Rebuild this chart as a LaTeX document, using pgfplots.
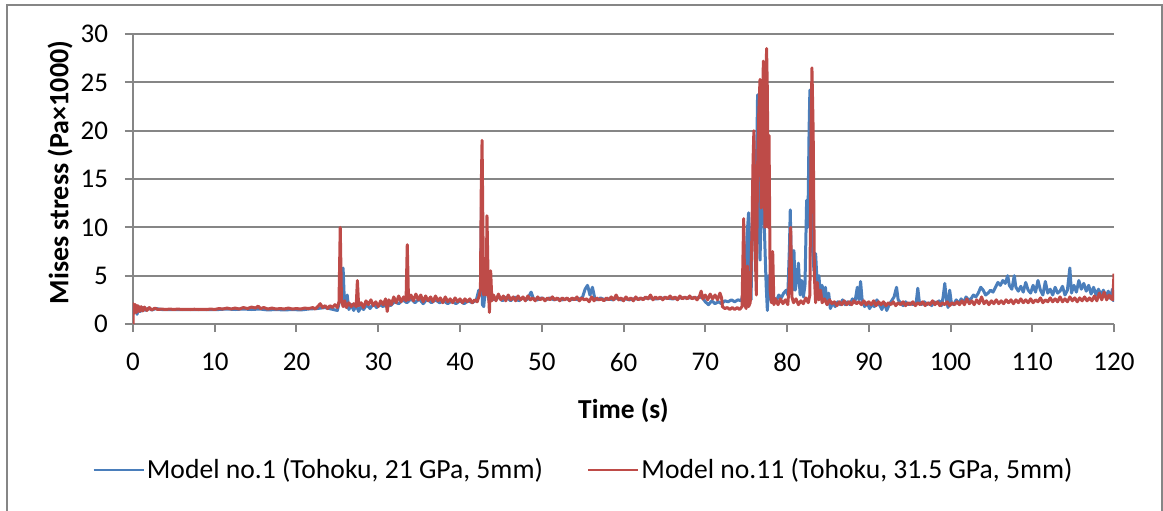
\documentclass[border=0pt]{standalone}
\usepackage{fontspec}
\setmainfont{Carlito}
\usepackage{pgfplots}
\pgfplotsset{compat=1.18}
\definecolor{ser1}{HTML}{4A7EBB}
\definecolor{ser2}{HTML}{BE4B48}
\definecolor{gridc}{HTML}{868686}
\begin{document}
\begin{tikzpicture}
\useasboundingbox (-66.5pt,-93pt) rectangle (515pt,162pt);
\draw[gridc, line width=1pt] (-62.75pt,-95pt) -- (-62.75pt,159.5pt) -- (514.5pt,159.5pt) -- (514.5pt,-95pt);
\begin{axis}[
  at={(0,0)}, anchor=south west,
  scale only axis, width=490.5pt, height=145pt,
  xmin=0, xmax=120, ymin=0, ymax=30,
  xtick={0,10,...,120}, ytick={0,5,...,30},
  axis x line*=bottom, axis y line*=left,
  axis line style={gridc, line width=1pt, -},
  tick style={gridc, line width=1pt},
  major tick length=4pt, tick align=outside,
  ymajorgrids, grid style={gridc, line width=1pt},
  ticklabel style={font=\fontsize{13.5}{16}\selectfont, text=black},
  xticklabel style={yshift=-7pt},
  yticklabel style={xshift=-5pt},
  /pgf/number format/assume math mode=true,
  xlabel={Time (s)}, ylabel={Mises stress (Pa×1000)},
  xlabel style={font=\fontsize{13.7}{16}\selectfont\bfseries, at={(axis description cs:0.5,-0.2966)}, anchor=center},
  ylabel style={font=\fontsize{14}{16}\selectfont\bfseries, at={(axis description cs:-0.0744,0.522)}, anchor=center, rotate=0},
  legend style={at={(axis description cs:0.4592,-0.5034)}, anchor=center, draw=none,
    font=\fontsize{13.8}{16}\selectfont, legend columns=2,
    nodes={inner xsep=1pt},
    /tikz/every even column/.append style={column sep=21pt}},
  legend cell align=left,
  legend image code/.code={\draw[#1,line width=1.25pt] (0pt,0pt) -- (25pt,0pt);},
  every axis plot/.append style={line width=1.5pt, line join=round},
]
\addplot[ser1] coordinates {
(0,2.0)(0.1,1.2)(0.3,1.9)(0.5,1.0)(0.7,1.8)(0.9,1.3)(1.2,1.7)(1.5,1.4)(1.9,1.65)(2.3,1.45)(2.8,1.6)(3.5,1.5)(4.5,1.5)(5.5,1.5)(6.5,1.5)(7.5,1.5)(8.5,1.5)(9.5,1.5)(10.5,1.5)(11.5,1.55)(12.5,1.5)(13.5,1.55)(14.5,1.5)(15.5,1.55)(16.5,1.45)(17.5,1.5)(18.5,1.45)(19.5,1.5)(20.5,1.45)(21.5,1.55)(22.5,1.6)(23.5,1.7)(24.5,1.5)(25.0,1.4)(25.3,2.5)(25.55,3.5)(25.7,5.8)(25.85,2.5)(26.0,1.8)(26.2,3.0)(26.4,1.5)(26.7,2.0)(27.0,1.4)(27.3,2.0)(27.6,1.3)(27.9,1.8)(28.2,1.5)(28.6,2.0)(29.0,1.6)(29.4,2.1)(29.8,1.7)(30.2,2.0)(30.6,1.8)(31.0,2.2)(31.5,1.9)(32.0,2.3)(32.5,2.1)(33.0,2.5)(33.5,2.2)(34.0,2.6)(34.5,2.2)(35.0,2.6)(35.5,2.1)(36.0,2.6)(36.5,2.2)(37.0,2.5)(37.5,2.2)(38.0,2.4)(38.5,2.1)(39.0,2.4)(39.5,2.1)(40.0,2.4)(40.5,2.1)(41.0,2.4)(41.5,2.2)(42.0,2.5)(42.3,3.5)(42.5,3.0)(42.65,13.5)(42.75,2.0)(42.9,1.8)(43.1,3.5)(43.3,5.5)(43.5,2.5)(43.8,2.9)(44.2,2.5)(44.7,2.8)(45.2,2.4)(45.7,2.8)(46.2,2.4)(46.7,2.8)(47.2,2.4)(47.7,2.7)(48.2,2.5)(48.7,3.3)(49.0,2.6)(49.5,2.5)(50.0,2.7)(50.5,2.5)(51.0,2.7)(51.5,2.5)(52.0,2.6)(52.5,2.5)(53.0,2.6)(53.5,2.5)(54.0,2.6)(54.5,2.5)(55.0,2.8)(55.3,3.6)(55.6,4.0)(55.9,3.0)(56.2,3.8)(56.5,2.6)(56.8,2.5)(57.2,2.7)(57.7,2.5)(58.2,2.6)(58.7,2.5)(59.2,2.7)(59.7,2.5)(60.2,2.6)(60.7,2.5)(61.2,2.6)(62.0,2.6)(63.0,2.7)(64.0,2.6)(65.0,2.7)(66.0,2.6)(67.0,2.7)(68.0,2.7)(69.0,2.7)(69.6,2.8)(70.0,2.3)(70.4,2.0)(70.8,2.4)(71.2,2.1)(71.6,2.3)(72.0,2.1)(72.4,2.4)(72.8,2.3)(73.2,2.5)(73.6,2.3)(74.0,2.5)(74.4,2.4)(74.6,3.0)(74.9,2.5)(75.1,9.0)(75.3,11.5)(75.45,4.0)(75.6,2.5)(75.8,12.0)(76.0,18.0)(76.2,12.0)(76.4,23.7)(76.55,14.0)(76.7,6.6)(76.85,12.0)(77.0,18.9)(77.15,12.0)(77.3,8.0)(77.45,4.0)(77.6,1.4)(77.75,5.0)(77.9,3.0)(78.1,2.3)(78.4,2.7)(78.7,2.4)(79.0,3.0)(79.3,2.7)(79.6,3.2)(79.9,3.5)(80.1,3.0)(80.3,8.0)(80.4,11.8)(80.55,5.0)(80.7,3.5)(80.85,7.6)(81.0,3.5)(81.2,4.5)(81.4,6.3)(81.6,3.0)(81.8,4.5)(82.0,2.8)(82.2,4.0)(82.4,12.8)(82.55,10.0)(82.7,20.0)(82.8,24.2)(82.95,15.0)(83.1,8.0)(83.3,5.5)(83.5,7.3)(83.7,4.0)(83.9,5.0)(84.1,3.0)(84.3,4.0)(84.5,2.5)(84.7,3.8)(84.9,2.0)(85.1,3.2)(85.3,1.6)(85.6,2.2)(85.9,1.8)(86.2,2.3)(86.5,2.0)(86.8,2.5)(87.1,2.0)(87.4,2.3)(87.7,2.0)(88.0,2.6)(88.3,2.2)(88.6,3.8)(88.8,2.5)(89.0,4.4)(89.2,2.4)(89.5,1.8)(89.8,2.2)(90.1,1.6)(90.4,2.0)(90.7,1.8)(91.0,2.5)(91.3,2.0)(91.6,1.5)(91.9,2.2)(92.2,1.4)(92.5,2.0)(92.8,2.4)(93.1,2.8)(93.4,3.8)(93.6,2.5)(93.9,2.2)(94.2,1.9)(94.5,2.3)(94.8,2.0)(95.1,2.2)(95.4,2.0)(95.8,2.2)(96.0,3.7)(96.2,2.2)(96.5,2.0)(96.8,2.3)(97.1,2.0)(97.4,2.2)(97.7,1.9)(98.0,2.3)(98.3,2.1)(98.6,2.4)(98.9,1.9)(99.1,2.8)(99.3,4.2)(99.5,2.5)(99.7,1.7)(99.9,3.5)(100.1,2.2)(100.4,2.0)(100.7,2.5)(101.0,2.1)(101.3,2.6)(101.6,2.2)(101.9,2.8)(102.2,2.5)(102.5,2.6)(102.8,3.0)(103.1,2.8)(103.4,3.2)(103.7,3.8)(104.0,3.5)(104.3,3.0)(104.6,3.2)(104.9,3.5)(105.2,3.3)(105.5,3.8)(105.8,4.3)(106.1,4.0)(106.4,4.5)(106.7,4.2)(107.0,5.0)(107.2,4.0)(107.5,3.6)(107.8,5.0)(108.0,3.8)(108.3,3.4)(108.6,3.9)(108.9,3.3)(109.2,4.3)(109.5,3.5)(109.8,3.2)(110.1,4.0)(110.4,3.3)(110.7,4.5)(111.0,3.5)(111.3,3.0)(111.6,4.4)(111.9,3.2)(112.2,3.6)(112.5,3.0)(112.8,3.8)(113.1,3.2)(113.4,3.4)(113.7,3.9)(114.0,3.0)(114.3,3.5)(114.6,5.8)(114.8,3.2)(115.1,4.0)(115.4,3.3)(115.7,4.5)(116.0,3.6)(116.3,4.2)(116.6,3.4)(116.9,4.0)(117.2,3.1)(117.5,3.8)(117.8,3.0)(118.1,3.6)(118.4,3.0)(118.7,3.5)(119.0,2.8)(119.3,3.4)(119.6,2.6)(119.8,3.6)(120.0,2.3)
};
\addlegendentry{Model no.1 (Tohoku, 21 GPa, 5mm)}
\addplot[ser2] coordinates {
(0,0.0)(0.05,2.1)(0.15,1.1)(0.3,2.0)(0.45,1.2)(0.6,1.9)(0.8,1.3)(1.0,1.8)(1.2,1.35)(1.4,1.75)(1.7,1.4)(2.0,1.7)(2.3,1.45)(2.7,1.65)(3.0,1.5)(3.5,1.55)(4,1.5)(4.5,1.55)(5,1.5)(5.5,1.55)(6,1.5)(6.5,1.52)(7,1.5)(7.5,1.53)(8,1.5)(8.5,1.52)(9,1.5)(9.5,1.55)(10,1.5)(10.5,1.6)(11,1.55)(11.5,1.65)(12,1.55)(12.5,1.65)(13,1.55)(13.5,1.7)(14,1.6)(14.5,1.75)(15,1.65)(15.3,1.85)(15.6,1.6)(16,1.7)(16.5,1.55)(17,1.65)(17.5,1.55)(18,1.6)(18.5,1.55)(19,1.65)(19.5,1.55)(20,1.6)(20.5,1.55)(21,1.65)(21.5,1.6)(22,1.7)(22.3,1.55)(22.6,1.8)(22.9,2.1)(23.2,1.7)(23.5,1.9)(23.8,1.6)(24.1,1.9)(24.4,1.7)(24.7,2.0)(25.0,1.7)(25.2,2.3)(25.35,10.0)(25.5,2.5)(25.7,1.8)(25.9,2.4)(26.1,1.7)(26.4,2.2)(26.7,1.8)(27.0,2.1)(27.3,1.8)(27.45,4.5)(27.6,1.9)(27.9,2.2)(28.2,1.7)(28.5,2.4)(28.8,2.0)(29.1,2.5)(29.4,1.9)(29.7,2.3)(30.0,1.8)(30.3,2.4)(30.6,2.0)(30.9,2.6)(31.1,1.3)(31.3,2.5)(31.6,2.0)(31.9,2.8)(32.2,2.2)(32.5,2.9)(32.8,2.3)(33.1,2.8)(33.4,2.4)(33.55,8.2)(33.7,2.5)(34.0,3.0)(34.3,2.4)(34.6,3.1)(34.9,2.5)(35.2,3.0)(35.5,2.3)(35.8,2.9)(36.1,2.4)(36.4,2.8)(36.7,2.3)(37.0,2.9)(37.3,2.4)(37.6,2.7)(37.9,2.2)(38.2,2.8)(38.5,2.3)(38.8,2.6)(39.1,2.2)(39.4,2.7)(39.7,2.3)(40.0,2.6)(40.3,2.2)(40.6,2.6)(40.9,2.3)(41.2,2.6)(41.5,2.2)(41.8,2.5)(42.1,2.3)(42.35,2.9)(42.5,3.5)(42.6,14.0)(42.7,19.0)(42.8,10.0)(42.9,3.0)(43.05,6.0)(43.2,3.0)(43.3,11.2)(43.45,4.0)(43.6,1.2)(43.75,5.5)(43.9,2.4)(44.1,3.0)(44.4,2.4)(44.7,3.1)(45.0,2.5)(45.3,2.9)(45.6,2.4)(45.9,3.0)(46.2,2.5)(46.5,2.8)(46.8,2.4)(47.1,2.9)(47.4,2.5)(47.7,2.8)(48.0,2.4)(48.3,2.9)(48.6,2.5)(48.9,2.7)(49.2,2.4)(49.5,2.8)(49.8,2.5)(50.1,2.7)(50.4,2.4)(50.7,2.7)(51.0,2.5)(51.3,2.8)(51.6,2.5)(51.9,2.7)(52.2,2.4)(52.5,2.7)(52.8,2.5)(53.1,2.7)(53.4,2.4)(53.7,2.7)(54.0,2.5)(54.3,2.8)(54.6,2.4)(54.9,2.7)(55.2,2.5)(55.5,2.6)(55.8,2.3)(56.1,2.8)(56.4,2.4)(56.7,2.7)(57.0,2.5)(57.3,2.6)(57.6,2.4)(57.9,2.7)(58.2,2.5)(58.5,2.8)(58.8,2.5)(59.1,3.0)(59.4,2.5)(59.7,2.7)(60.0,2.4)(60.3,2.8)(60.6,2.5)(60.9,2.7)(61.2,2.4)(61.5,2.8)(61.8,2.5)(62.1,2.7)(62.4,2.5)(62.7,2.8)(63.0,2.6)(63.3,3.0)(63.6,2.5)(63.9,2.8)(64.2,2.6)(64.5,2.8)(64.8,2.5)(65.1,2.8)(65.4,2.6)(65.7,2.9)(66.0,2.6)(66.3,2.8)(66.6,2.5)(66.9,2.9)(67.2,2.6)(67.5,2.8)(67.8,2.6)(68.1,2.9)(68.4,2.6)(68.7,2.8)(69.0,2.5)(69.3,2.9)(69.5,3.4)(69.7,2.6)(70.0,3.0)(70.3,2.5)(70.6,3.1)(70.9,2.6)(71.2,3.0)(71.5,2.5)(71.8,3.2)(72.0,2.7)(72.1,1.8)(72.4,1.6)(72.7,1.7)(73.0,1.5)(73.3,1.7)(73.6,1.5)(73.9,1.7)(74.2,1.5)(74.5,1.8)(74.7,10.9)(74.85,2.0)(75.0,1.6)(75.15,6.0)(75.3,1.8)(75.5,2.2)(75.7,9.0)(75.85,17.0)(75.95,20.0)(76.1,8.0)(76.25,3.0)(76.4,16.0)(76.55,22.0)(76.7,25.3)(76.85,12.0)(77.0,15.0)(77.1,27.2)(77.2,18.0)(77.3,10.0)(77.4,22.0)(77.5,28.5)(77.6,24.0)(77.7,10.0)(77.8,19.5)(77.95,3.5)(78.1,2.2)(78.25,7.5)(78.4,2.0)(78.6,2.6)(78.9,2.0)(79.2,2.6)(79.5,2.1)(79.8,2.5)(80.1,2.0)(80.3,4.5)(80.45,10.0)(80.6,2.8)(80.8,2.2)(81.1,2.6)(81.4,2.0)(81.7,2.4)(82.0,2.1)(82.3,2.7)(82.6,2.2)(82.8,3.0)(82.95,20.0)(83.05,26.5)(83.2,20.0)(83.35,5.0)(83.5,2.2)(83.7,4.3)(83.9,2.5)(84.1,3.5)(84.3,2.2)(84.6,2.6)(84.9,2.0)(85.2,2.5)(85.5,2.1)(85.8,2.3)(86.1,1.9)(86.4,2.3)(86.7,2.0)(87.0,2.4)(87.3,2.0)(87.6,2.3)(87.9,2.0)(88.2,2.4)(88.5,2.1)(88.8,2.3)(89.1,2.0)(89.4,2.4)(89.7,2.0)(90.0,2.3)(90.3,2.0)(90.6,2.4)(90.9,1.9)(91.2,2.3)(91.5,2.0)(91.8,2.3)(92.1,1.9)(92.4,2.2)(92.7,2.0)(93.0,2.3)(93.3,1.9)(93.6,2.2)(93.9,2.0)(94.2,2.3)(94.5,1.9)(94.8,2.2)(95.1,2.0)(95.4,2.3)(95.7,1.9)(96.0,2.2)(96.3,2.0)(96.6,2.3)(96.9,1.9)(97.2,2.2)(97.5,2.0)(97.8,2.4)(98.1,2.0)(98.4,2.3)(98.7,1.9)(99.0,2.2)(99.3,2.0)(99.6,2.3)(99.9,1.9)(100.2,2.2)(100.5,2.0)(100.8,2.3)(101.1,2.0)(101.4,2.4)(101.7,2.0)(102.0,2.6)(102.3,2.1)(102.6,2.4)(102.9,2.0)(103.2,2.5)(103.5,2.1)(103.8,2.8)(104.1,2.1)(104.4,2.4)(104.7,2.0)(105.0,2.4)(105.3,2.1)(105.6,2.5)(105.9,2.1)(106.2,2.4)(106.5,2.1)(106.8,2.5)(107.1,2.2)(107.4,2.5)(107.7,2.1)(108.0,2.5)(108.3,2.2)(108.6,2.6)(108.9,2.2)(109.2,2.5)(109.5,2.2)(109.8,2.6)(110.1,2.2)(110.4,2.5)(110.7,2.3)(111.0,2.7)(111.3,2.2)(111.6,2.5)(111.9,2.3)(112.2,2.7)(112.5,2.3)(112.8,2.6)(113.1,2.3)(113.4,2.8)(113.7,2.3)(114.0,2.6)(114.3,2.3)(114.6,2.8)(114.9,2.4)(115.2,2.7)(115.5,2.3)(115.8,2.7)(116.1,2.4)(116.4,2.8)(116.7,2.4)(117.0,2.7)(117.3,2.4)(117.6,2.9)(117.9,2.4)(118.2,3.2)(118.5,2.5)(118.8,3.3)(119.1,2.5)(119.4,3.0)(119.7,2.6)(119.85,2.5)(120.0,5.2)
};
\addlegendentry{Model no.11 (Tohoku, 31.5 GPa, 5mm)}
\end{axis}
\end{tikzpicture}
\end{document}
